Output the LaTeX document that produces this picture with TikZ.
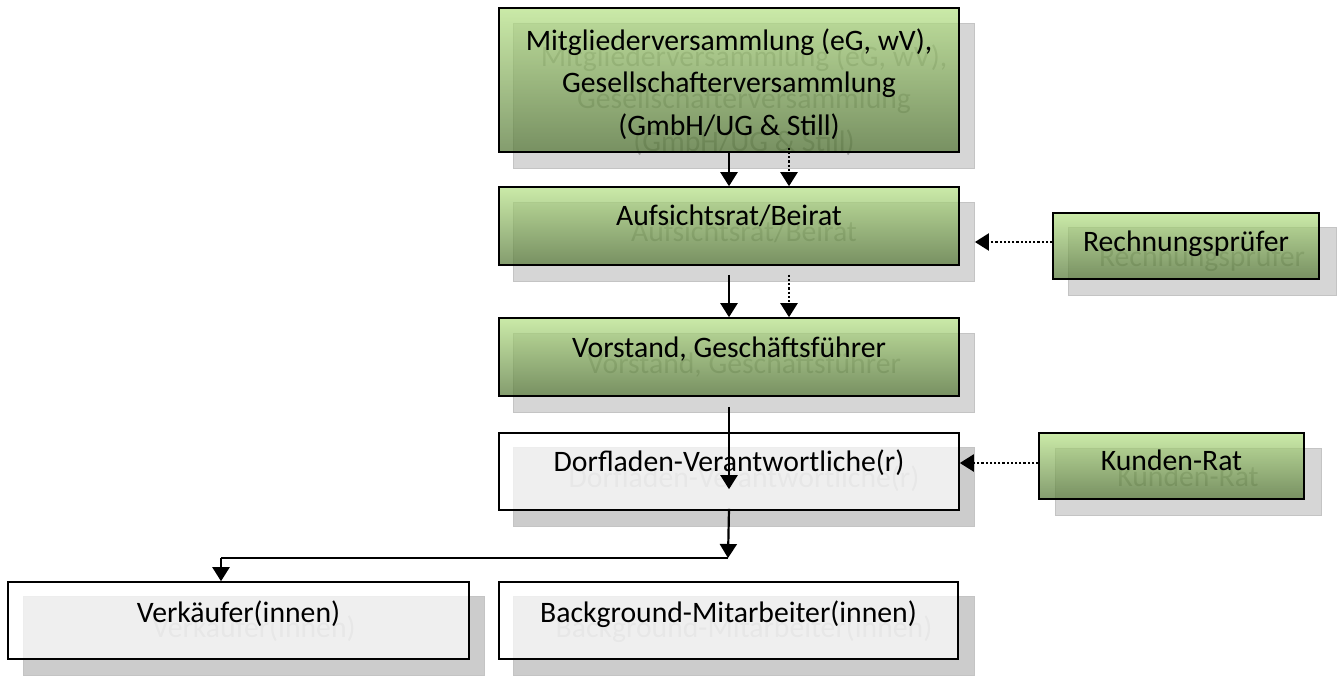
\documentclass[tikz,border=0pt]{standalone}
\usepackage{fontspec}
\setmainfont{Carlito}
\usetikzlibrary{arrows.meta,calc}
\definecolor{gtop}{RGB}{182,226,134}
\definecolor{gbot}{RGB}{84,118,54}
\definecolor{gshad}{RGB}{214,214,214}
\definecolor{gshadline}{RGB}{196,196,196}
\definecolor{gshadtext}{RGB}{160,160,160}
\definecolor{wshad}{RGB}{204,204,204}
\definecolor{wshadtext}{RGB}{175,175,175}
\newcommand{\bl}[2]{\raisebox{#1}[0pt][0pt]{#2}}
\tikzset{
  base/.style={rectangle, inner sep=0pt, align=center, font=\fontsize{29.7}{42.5}\selectfont},
  greenbox/.style={base, draw=black, line width=1.6pt, top color=gtop, bottom color=gbot, fill opacity=0.72, text opacity=1, draw opacity=1},
  whitebox/.style={base, draw=black, line width=1.6pt, fill=white, fill opacity=0.7, text opacity=1, draw opacity=1},
  gshadow/.style={base, fill=gshad, draw=gshadline, line width=0.8pt, text=gshadtext},
  wshadow/.style={base, fill=wshad, draw=gshadline, line width=0.8pt, text=wshadtext},
  arr/.style={line width=2.2pt, -{Triangle[length=14pt,width=17pt]}},
  dotarr/.style={arr, dash pattern=on 2.2pt off 2pt},
}
\begin{document}
\begin{tikzpicture}[x=1pt,y=-1pt]
\useasboundingbox (0,0) rectangle (1338,675);
% shadows
\node[gshadow, minimum width=461, minimum height=145] (as) at (744,96) {\bl{-55pt}{\begin{tabular}[b]{@{}c@{}}Mitgliederversammlung (eG, wV),\\Gesellschafterversammlung\\(GmbH/UG \& Still)\end{tabular}}};
\node[gshadow, minimum width=461, minimum height=79] (bs) at (744,242) {\bl{1pt}{Aufsichtsrat/Beirat}};
\node[gshadow, minimum width=461, minimum height=79] (cs) at (744,373) {\bl{0pt}{Vorstand, Geschäftsführer}};
\node[wshadow, minimum width=461, minimum height=79] (ds) at (744,487) {\bl{0pt}{Dorfladen-Verantwortliche(r)}};
\node[wshadow, minimum width=461, minimum height=79] (vs) at (254,636) {\bl{-1.5pt}{Verkäufer(innen)}};
\node[wshadow, minimum width=461, minimum height=79] (gs) at (744,636) {\bl{-1.5pt}{Background-Mitarbeiter(innen)}};
\node[gshadow, minimum width=268, minimum height=68] (rs) at (1202,261) {\bl{-5pt}{Rechnungsprüfer}};
\node[gshadow, minimum width=266, minimum height=67] (ks) at (1188,482) {\bl{-4pt}{Kunden-Rat}};
% boxes
\node[greenbox, minimum width=460, minimum height=144] (a) at (729,80) {\bl{-55pt}{\begin{tabular}[b]{@{}c@{}}Mitgliederversammlung (eG, wV),\\Gesellschafterversammlung\\(GmbH/UG \& Still)\end{tabular}}};
\node[greenbox, minimum width=460, minimum height=78] (b) at (729,226) {\bl{1pt}{Aufsichtsrat/Beirat}};
\node[greenbox, minimum width=460, minimum height=78] (c) at (729,357) {\bl{0pt}{Vorstand, Geschäftsführer}};
\node[whitebox, minimum width=460, minimum height=77] (d) at (729,471.5) {\bl{0pt}{Dorfladen-Verantwortliche(r)}};
\node[whitebox, minimum width=461, minimum height=77] (v) at (238.5,620.5) {\bl{-1.5pt}{Verkäufer(innen)}};
\node[whitebox, minimum width=459, minimum height=77] (g) at (728.5,620.5) {\bl{-1.5pt}{Background-Mitarbeiter(innen)}};
\node[greenbox, minimum width=266, minimum height=66] (r) at (1186,246) {\bl{-5pt}{Rechnungsprüfer}};
\node[greenbox, minimum width=265, minimum height=66] (k) at (1171.5,466) {\bl{-4pt}{Kunden-Rat}};
% connectors
\draw[arr] (a.south) -- (b.north);
\draw[dotarr] ($(a.south)+(60,-5)$) -- ($(b.north)+(60,0)$);
\draw[arr] ($(b.south)+(0,9)$) -- (c.north);
\draw[dotarr] ($(b.south)+(60,9)$) -- ($(c.north)+(60,0)$);
\draw[arr] ($(c.south)+(0,10)$) -- ($(d.north)+(0,57)$);
\coordinate (j) at (728,558);
\coordinate (jl) at (221,558);
\draw[arr] ($(d.south)+(0,-2)$) -- (j);
\draw[line width=1.6pt] (j) -- (jl);
\draw[arr] (jl) -- (jl |- v.north);
\coordinate (rw) at ($(r.west)+(0,-4)$);
\coordinate (kw) at ($(k.west)+(0,-3)$);
\draw[dotarr] (rw) -- (rw -| bs.east);
\draw[dotarr] (kw) -- (kw -| d.east);
\end{tikzpicture}
\end{document}
